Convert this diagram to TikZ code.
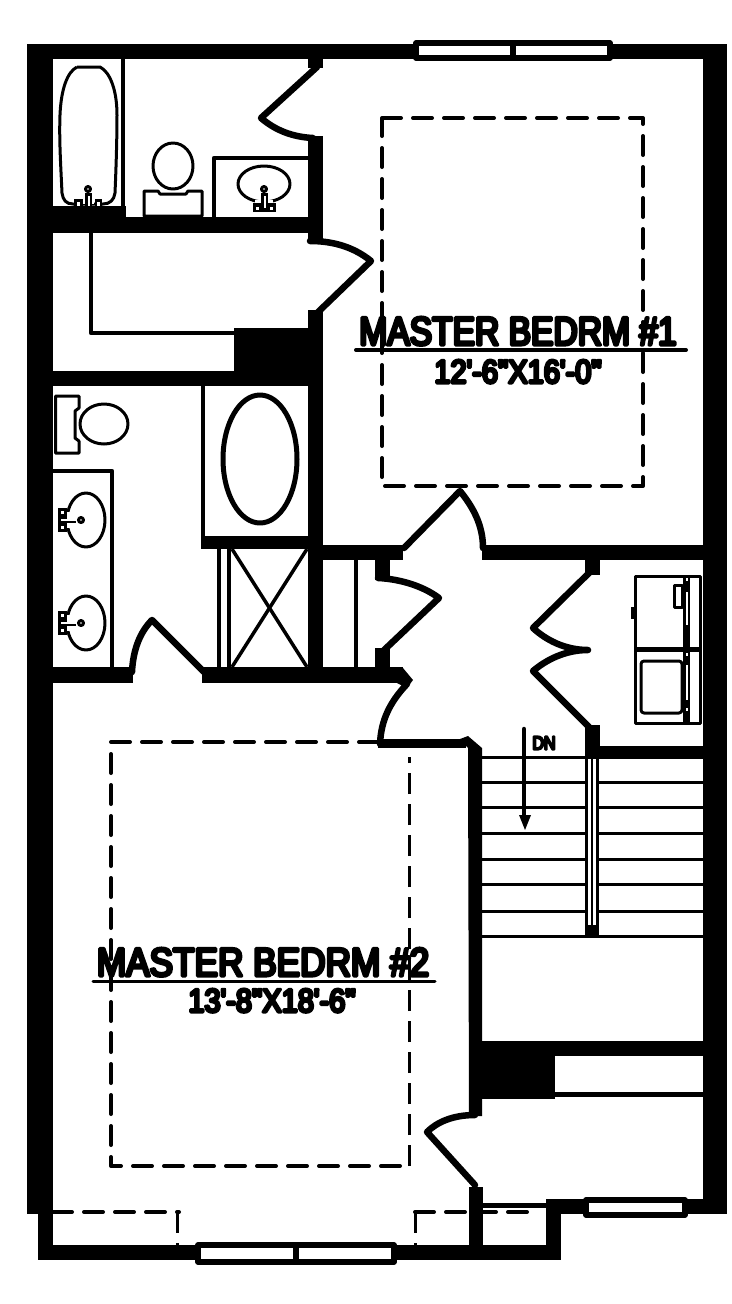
\documentclass[tikz,border=0pt]{standalone}
\usepackage{fontspec}
\newfontfamily\planfont[FakeStretch=0.84]{Liberation Sans}
\newfontfamily\widefont[FakeStretch=0.88]{Liberation Sans}
\newfontfamily\sizefont[FakeStretch=0.88]{Liberation Sans}
\newcommand{\heavy}[2]{\special{pdf:code q 2 Tr #1 w 1 j 1 J}#2\special{pdf:code Q}}
\begin{document}
\begin{tikzpicture}[x=1pt,y=-1pt,line join=round,
    wall/.style={fill=black},
    door/.style={draw=black,line width=6.5pt,line cap=round},
    fixture/.style={draw=black,line width=3pt},
    partition/.style={draw=black,line width=4.5pt},
    tread/.style={draw=black,line width=3pt},
    hidden/.style={draw=black,line width=4pt,line cap=round,dash pattern=on 19pt off 12pt},
    hiddenthin/.style={draw=black,line width=3pt,dash pattern=on 21pt off 10pt},
    windowframe/.style={draw=black,fill=white,line width=5.5pt},
    roomlabel/.style={font=\planfont\fontsize{40}{40}\selectfont,inner sep=0pt,anchor=base},
    sizelabel/.style={font=\sizefont\fontsize{33}{33}\selectfont,inner sep=0pt,anchor=base}]
    \useasboundingbox (0,0) rectangle (731,1304);
    % outer walls
    \fill[wall] (27,44) rectangle (727,59);
    \fill[wall] (27,44) rectangle (53,1214);
    \fill[wall] (703,44) rectangle (727,1214);
    \fill[wall] (38,1214) rectangle (53,1260);
    \fill[wall] (38,1245) rectangle (561,1260);
    \fill[wall] (546,1199) rectangle (561,1260);
    \fill[wall] (546,1199) rectangle (727,1214);
    % inner walls
    \fill[wall] (53,206) rectangle (126,217);
    \fill[wall] (27,217) rectangle (323,233);
    \fill[wall] (308,59) rectangle (323,68);
    \fill[wall] (308,136) rectangle (323,242);
    \fill[wall] (308,310) rectangle (323,667);
    \fill[wall] (234,328) rectangle (323,386);
    \fill[wall] (27,371) rectangle (323,386);
    \fill[wall] (201,536) rectangle (323,549);
    \fill[wall] (53,667) rectangle (133,683);
    \fill[wall] (202,667) rectangle (403,683);
    \fill[wall] (403,668) -- (413,680) -- (407,688) -- (397,683) -- cycle;
    \fill[wall] (323,545) rectangle (403,560);
    \fill[wall] (375,560) rectangle (390,580);
    \fill[wall] (375,648) rectangle (390,667);
    \fill[wall] (482,545) rectangle (703,560);
    \fill[wall] (585,560) rectangle (600,575);
    \fill[wall] (585,725) rectangle (600,759);
    \fill[wall] (600,746) rectangle (703,759);
    \fill[wall] (468,736) -- (482,748) -- (482,1116) -- (469,1116) -- (468,748) -- (460,739) -- cycle;
    \fill[wall] (469,1041) rectangle (703,1056);
    \fill[wall] (469,1041) rectangle (555,1099);
    \fill[wall] (555,1092) rectangle (703,1097);
    \fill[wall] (469,1187) rectangle (483,1245);
    \fill[wall] (483,1203) rectangle (546,1208);
    % doors
    \draw[door] (317,67) -- (261,118) .. controls (275,130) and (292,137) .. (313,138);
    \draw[door] (310,241) .. controls (335,241) and (355,248) .. (371,261) -- (315,315);
    \draw[door] (132,672) .. controls (133,650) and (140,632) .. (152,620) -- (204,672);
    \draw[door] (378,578) .. controls (400,579) and (423,586) .. (439,598) -- (382,652);
    \draw[door] (404,548) -- (460,491) .. controls (473,507) and (483,525) .. (483,548);
    \draw[door] (590,572) -- (533,628) .. controls (546,640) and (565,650) .. (588,650)
        .. controls (565,650) and (546,660) .. (533,671) -- (589,727);
    \draw[door] (407,684) .. controls (390,702) and (381,720) .. (380,744);
    \draw[black,line width=9pt] (378,743.5) -- (466,743.5);
    \draw[door] (475,1185) -- (427,1132) .. controls (437,1122) and (453,1115) .. (475,1115);
    % dashed outlines
    \draw[hidden] (382,118) -- (643,118) -- (643,486) -- (382,486) -- cycle;
    \draw[hidden] (378,742) -- (111,742) -- (111,1166) -- (409,1166);
    \draw[hiddenthin] (409,1166) -- (409,757);
    \draw[hidden] (53,1212) -- (179,1212);
    \draw[hiddenthin] (177,1212) -- (177,1245);
    \draw[hidden] (415,1212) -- (538,1212);
    \draw[hiddenthin] (415,1212) -- (415,1245);
    % closet rod and partitions
    \draw[partition] (91,233) -- (91,333) -- (234,333);
    \draw[partition] (123,59) -- (123,206);
    \draw[partition] (214,217) -- (214,158) -- (308,158);
    \draw[partition] (53,471) -- (112,471) -- (112,667);
    \draw[partition] (203,386) -- (203,536);
    \draw[partition] (356,560) -- (356,667);
    \draw[partition] (219,549) -- (219,667);
    \draw[partition] (229,549) -- (229,667);
    \draw[draw=black,line width=3.5pt] (232,549) -- (307,667);
    \draw[draw=black,line width=3.5pt] (307,549) -- (232,667);
    % upper bath
    \draw[fixture] (77,67) -- (100,67) .. controls (110,72) and (117,90) .. (117,115)
        .. controls (117,140) and (116,170) .. (115,193) .. controls (114,200) and (110,204) .. (103,204)
        -- (73,204) .. controls (66,204) and (63,200) .. (62,193) .. controls (61,170) and (59,140) .. (60,115)
        .. controls (61,90) and (67,72) .. (77,67);
    \fill[white] (83,201) rectangle (94,204);
    \draw[fixture,fill=white] (88,189) circle (2.5);
    \fill[black] (85,193) rectangle (92,206);
    \fill[white] (88,196) rectangle (89.5,206);
    \fill[black] (74,199) rectangle (83,206);
    \fill[black] (95,199) rectangle (102,206);
    \fill[white] (77,202) rectangle (80,206);
    \fill[white] (97,202) rectangle (100,206);
    \draw[fixture] (173,166) ellipse (20 and 23);
    \draw[fixture] (144,191) -- (158,191) -- (160,194) -- (186,194) -- (188,191) -- (202,191)
        -- (202,216) -- (144,216) -- cycle;
    \draw[fixture] (264,184) ellipse (26 and 18);
    \fill[white] (255,200) rectangle (273,203);
    \draw[fixture,fill=white] (264,189) circle (2.5);
    \fill[black] (253,203) rectangle (276,212);
    \fill[black] (261,193) rectangle (268,204);
    \fill[white] (264,196) rectangle (265.5,208);
    \fill[white] (256,207) rectangle (259,210);
    \fill[white] (270,207) rectangle (273,210);
    % lower bath
    \draw[fixture] (104,424) ellipse (24 and 20);
    \draw[fixture] (55.5,396) -- (79,396) -- (79,408) -- (75,411) -- (75,438) -- (79,441) -- (79,453)
        -- (55.5,453) -- cycle;
    \foreach \ypos in {520,623} {
        \draw[fixture] (86,\ypos) ellipse (19 and 27);
        \fill[white] (66,\ypos-8) rectangle (70,\ypos+8);
        \draw[fixture,fill=white] (81,\ypos) circle (2.5);
        \fill[black] (58,\ypos-12) rectangle (67,\ypos+12);
        \fill[black] (65,\ypos-1) rectangle (76,\ypos+3);
        \fill[white] (61,\ypos-1) rectangle (76,\ypos+0.5);
        \fill[white] (61,\ypos-9) rectangle (64,\ypos-6);
        \fill[white] (61,\ypos+6) rectangle (64,\ypos+9);
    }
    \draw[draw=black,line width=5pt] (260,459) ellipse (37 and 64);
    % laundry
    \draw[fixture] (635,576) rectangle (700,723);
    \draw[draw=black,line width=5pt] (635,649.5) -- (700,649.5);
    \fill[black] (683,576) rectangle (690,723);
    \fill[white] (686,592) rectangle (687.5,625);
    \fill[white] (686,665) rectangle (687.5,700);
    \fill[white] (686,578) rectangle (687.5,581);
    \fill[white] (686,653) rectangle (687.5,656);
    \fill[white] (686,708) rectangle (687.5,711);
    \draw[fixture] (674,585) rectangle (682,607);
    \fill[black] (631,607) rectangle (635,619);
    \draw[fixture,rounded corners=3pt] (641,661) rectangle (682,713);
    % stairs
    \foreach \ypos in {757,782,807,833,859,884,911,936} {
        \draw[tread] (482,\ypos) -- (703,\ypos);
    }
    \fill[wall] (585,757) rectangle (599,937);
    \fill[white] (588,759) rectangle (590.5,925);
    \fill[white] (593,759) rectangle (596,925);
    \draw[draw=black,line width=4.5pt,line cap=round] (524,729) -- (524,815);
    \fill[black] (519,815) -- (531,815) -- (525,830) -- cycle;
    \node[font=\planfont\fontsize{19}{19}\selectfont,inner sep=0pt] (stairlabel) at (544,743) {\heavy{2.2}{DN}};
    % windows
    \draw[windowframe] (416,43) rectangle (610,58);
    \draw[draw=black,line width=5.5pt] (513,43) -- (513,58);
    \draw[windowframe] (198,1245) rectangle (394,1262);
    \draw[draw=black,line width=5.5pt] (296,1245) -- (296,1262);
    \draw[windowframe] (586,1200) rectangle (685,1215);
    % labels
    \draw[black,line width=4pt,line cap=round] (356,350) -- (686,350);
    \draw[black,line width=3pt,line cap=round] (93,981) -- (435,981);
    \node[roomlabel] (bedlabela) at (518,345) {\heavy{3.2}{MASTER BEDRM \#1}};
    \node[sizelabel] (sizelabela) at (518,383) {\heavy{3}{12'-6"X16'-0"}};
    \node[roomlabel,font=\widefont\fontsize{40}{40}\selectfont] (bedlabelb) at (263,976) {\heavy{3.2}{MASTER BEDRM \#2}};
    \node[sizelabel] (sizelabelb) at (272,1012) {\heavy{3}{13'-8"X18'-6"}};
\end{tikzpicture}
\end{document}
